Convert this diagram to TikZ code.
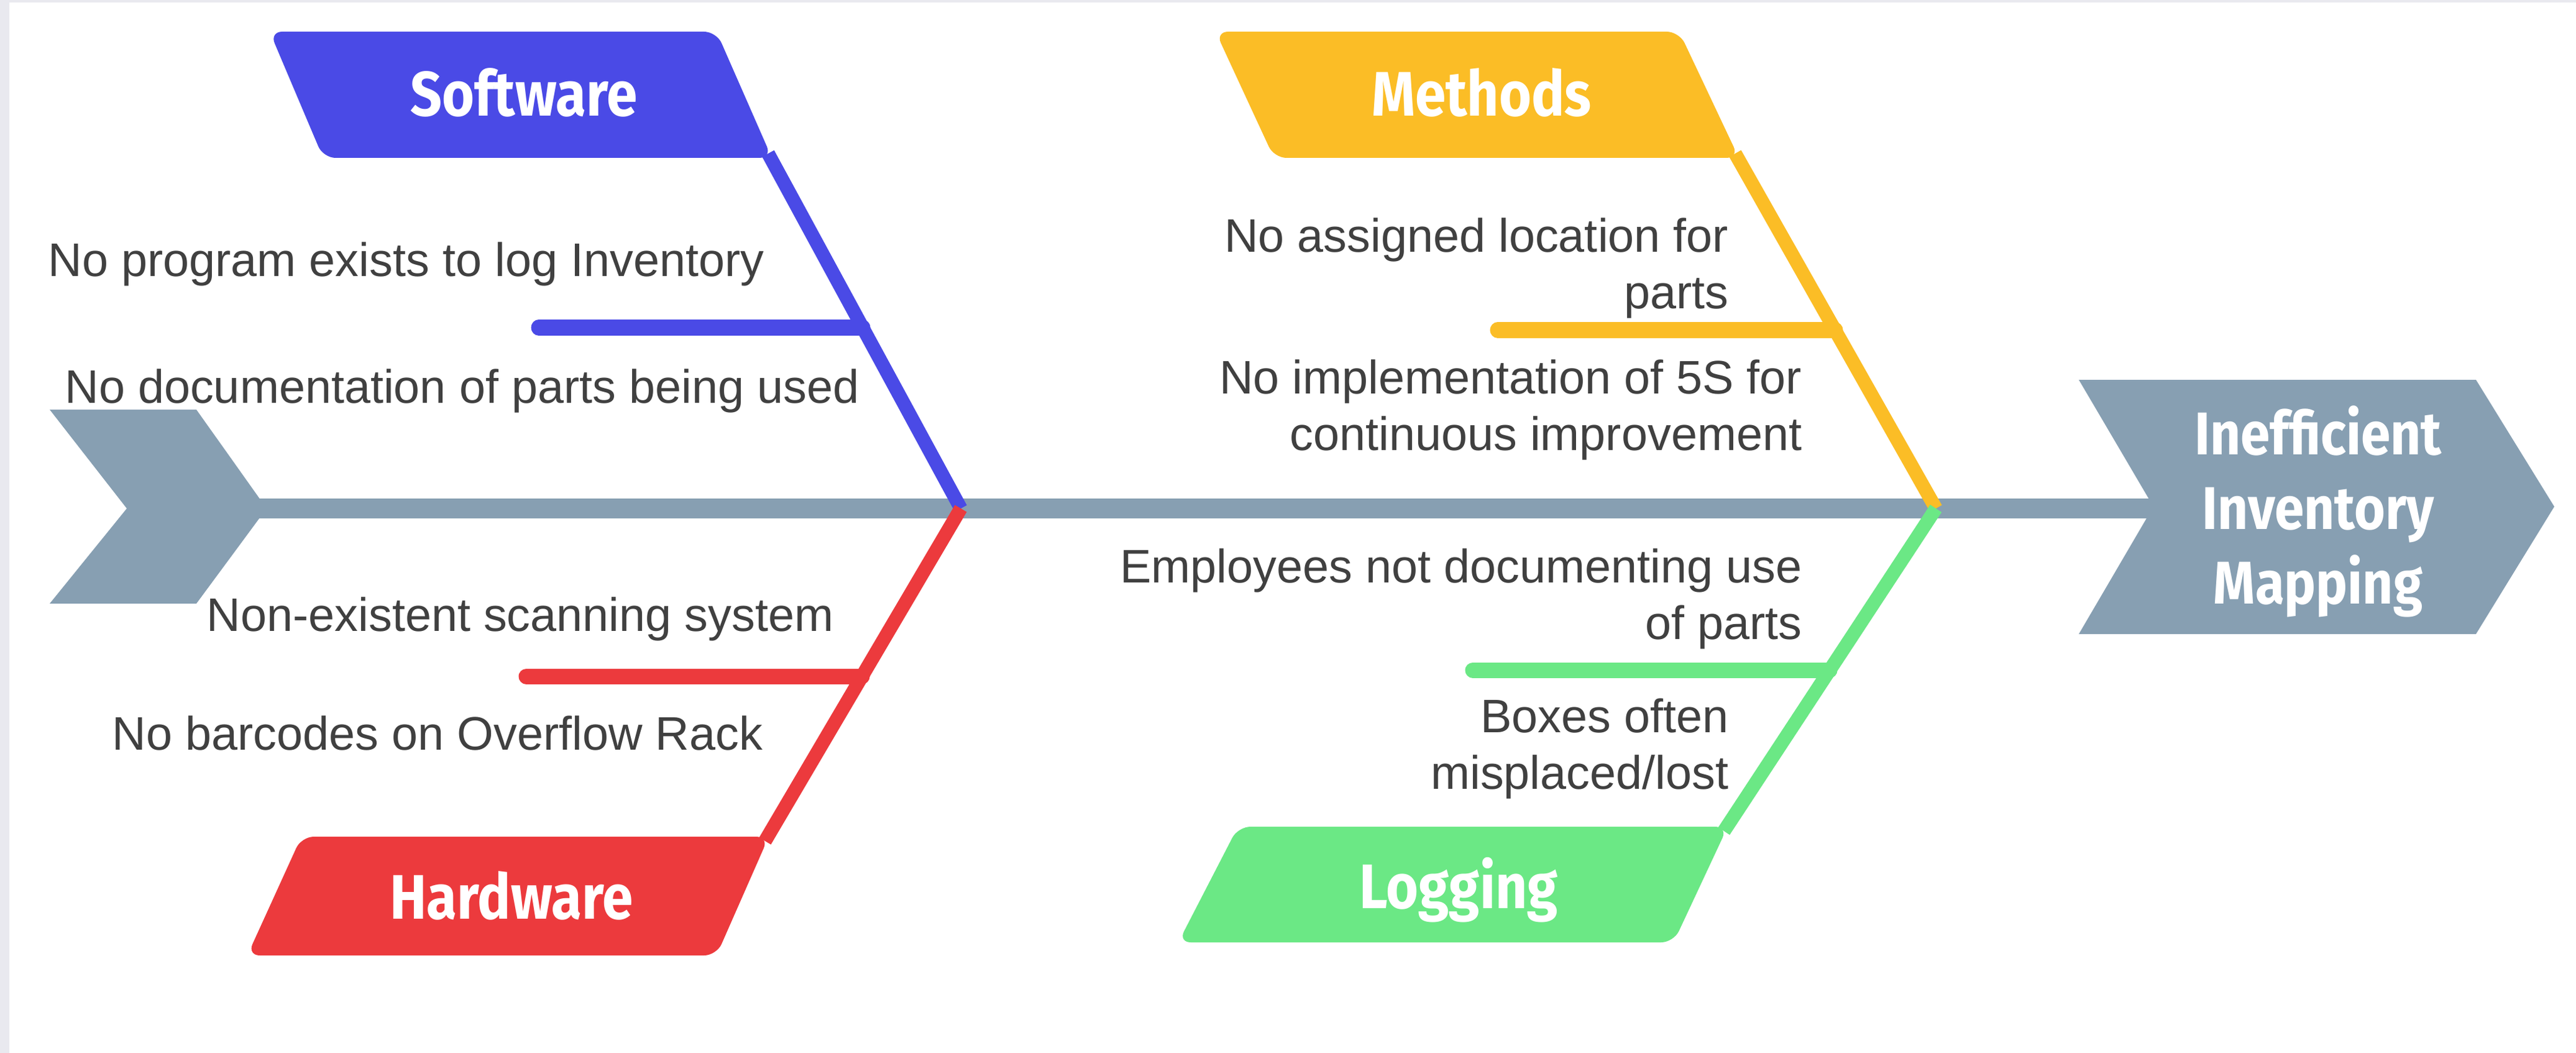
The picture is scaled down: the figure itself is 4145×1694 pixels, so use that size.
\documentclass[tikz,border=0pt]{standalone}
\usepackage{fontspec}
\setmainfont{Liberation Sans}
\newfontfamily\titlefont[FakeStretch=0.88]{Fira Sans}
\definecolor{cblue}{HTML}{4A4AE6}
\definecolor{cyellow}{HTML}{FBBD26}
\definecolor{cred}{HTML}{EC3A3D}
\definecolor{cgreen}{HTML}{6BE885}
\definecolor{cspine}{HTML}{879FB2}
\definecolor{ctext}{HTML}{404040}
\definecolor{cframe}{HTML}{E9E9EF}
\begin{document}
\begin{tikzpicture}[x=0.01cm,y=-0.01cm,
  catbox/.style={rounded corners=0.2cm},
  bone/.style={line width=0.22cm},
  subbone/.style={line width=0.25cm, line cap=round},
  cause/.style={text=ctext, inner sep=0pt, align=right,
    font=\fontsize{21.5pt}{25.6pt}\selectfont},
  cattitle/.style={text=white, inner sep=0pt,
    font=\titlefont\bfseries\fontsize{28.8pt}{34pt}\selectfont},
  headtitle/.style={text=white, inner sep=0pt, align=center,
    font=\titlefont\bfseries\fontsize{27.6pt}{34.1pt}\selectfont}]
\useasboundingbox (0,0) rectangle (4145,1694);
\fill[cframe] (0,0) rectangle (4145,1694);
\fill[white] (15,4) rectangle (4145,1694);

% spine
\coordinate (spL) at (300,818);
\coordinate (spR) at (3470,818);
\draw[cspine, line width=0.32cm] (spL) -- (spR);
% tail and head
\fill[cspine] (80,659) -- (316,659) -- (429,818) -- (316,971) -- (80,971) -- (204,818) -- cycle;
\fill[cspine] (3345,611) -- (3984,611) -- (4110,815) -- (3984,1020) -- (3345,1020) -- (3465,815) -- cycle;
\node[headtitle, anchor=base] (head) at (3730,971) {Inefficient\\Inventory\\Mapping};

% joints (bone ends reach slightly into the category boxes)
\coordinate (jL) at (1546,818);
\coordinate (jR) at (3115,818);
\coordinate (swC) at (1236,247);
\coordinate (meC) at (2792,247);
\coordinate (hwC) at (1231,1353);
\coordinate (loC) at (2774,1337);

% sub-bones
\coordinate (s1) at (867,527);
\coordinate (s1e) at (1388,527);
\coordinate (s2) at (847,1088);
\coordinate (s2e) at (1387,1088);
\coordinate (s3) at (2410,531);
\coordinate (s3e) at (2953,531);
\coordinate (s4) at (2370,1078);
\coordinate (s4e) at (2944,1078);
\draw[subbone, cblue] (s1) -- (s1e);
\draw[subbone, cred] (s2) -- (s2e);
\draw[subbone, cyellow] (s3) -- (s3e);
\draw[subbone, cgreen] (s4) -- (s4e);

% bones
\draw[bone, cblue] (swC) -- (jL);
\draw[bone, cred] (jL) -- (hwC);
\draw[bone, cyellow] (meC) -- (jR);
\draw[bone, cgreen] (jR) -- (loC);

% category boxes
\fill[cblue, catbox] (520,254) -- (434,51) -- (1153,51) -- (1242,254) -- cycle;
\fill[cyellow, catbox] (2050,254) -- (1956,51) -- (2702,51) -- (2798,254) -- cycle;
\fill[cred, catbox] (485,1346) -- (1237,1346) -- (1153,1537) -- (398,1537) -- cycle;
\fill[cgreen, catbox] (1992,1330) -- (2780,1330) -- (2693,1516) -- (1896,1516) -- cycle;

\node[cattitle, anchor=base] (sw) at (843,187) {Software};
\node[cattitle, anchor=base] (me) at (2384,187) {Methods};
\node[cattitle, anchor=base] (hw) at (823,1478) {Hardware};
\node[cattitle, anchor=base] (lo) at (2347,1461) {Logging};

% causes
\node[cause, anchor=base east] (c1) at (1230,444) {No program exists to log Inventory};
\node[cause, anchor=base east] (c2) at (1383,648) {No documentation of parts being used};
\node[cause, anchor=base east] (c3) at (1342,1015) {Non-existent scanning system};
\node[cause, anchor=base east] (c4) at (1228,1206) {No barcodes on Overflow Rack};
\node[cause, anchor=base east] (c5) at (2782,496) {No assigned location for\\parts};
\node[cause, anchor=base east] (c6) at (2900,724) {No implementation of 5S for\\continuous improvement};
\node[cause, anchor=base east] (c7) at (2900,1028) {Employees not documenting use\\of parts};
\node[cause, anchor=base east] (c8) at (2782,1269) {Boxes often\\misplaced/lost};
\end{tikzpicture}
\end{document}
